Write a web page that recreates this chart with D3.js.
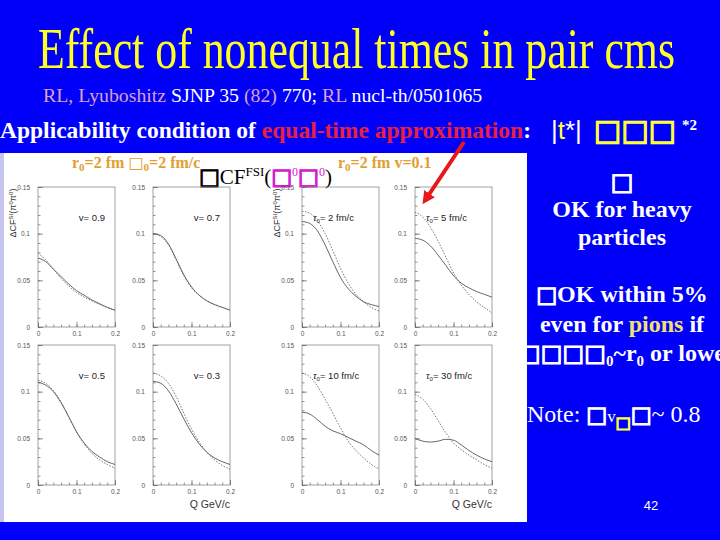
<!DOCTYPE html>
<html><head><meta charset="utf-8">
<script src="https://cdn.jsdelivr.net/npm/d3@7"></script>
<style>body{margin:0;background:#0000fa;} svg{display:block}</style>
</head><body><svg id="c" width="720" height="540"></svg>
<script>
// ---- data ----
const qValues = [0, 0.02, 0.04, 0.06, 0.08, 0.10, 0.12, 0.14, 0.16, 0.18, 0.20];
const panelLabels = ["v= 0.9", "v= 0.7", "τ₀= 2 fm/c", "τ₀= 5 fm/c", "v= 0.5", "v= 0.3", "τ₀= 10 fm/c", "τ₀= 30 fm/c"];
const solidV09  = [0.074, 0.070, 0.062, 0.054, 0.046, 0.039, 0.034, 0.029, 0.025, 0.021, 0.018];
const dashedV09 = [0.079, 0.072, 0.062, 0.052, 0.044, 0.037, 0.032, 0.028, 0.024, 0.021, 0.018];
const solidV07  = [0.100, 0.098, 0.089, 0.073, 0.056, 0.043, 0.034, 0.028, 0.024, 0.021, 0.018];
const dashedV07 = [0.100, 0.097, 0.088, 0.072, 0.055, 0.042, 0.034, 0.028, 0.024, 0.021, 0.018];
const solidT2   = [0.113, 0.111, 0.103, 0.088, 0.070, 0.053, 0.041, 0.033, 0.027, 0.024, 0.022];
const dashedT2  = [0.124, 0.122, 0.114, 0.100, 0.082, 0.063, 0.047, 0.035, 0.027, 0.021, 0.017];
const solidT5   = [0.095, 0.093, 0.087, 0.077, 0.066, 0.055, 0.047, 0.042, 0.038, 0.035, 0.032];
const dashedT5  = [0.123, 0.118, 0.107, 0.092, 0.075, 0.058, 0.045, 0.035, 0.027, 0.021, 0.015];
const solidV05  = [0.110, 0.107, 0.100, 0.088, 0.073, 0.057, 0.045, 0.036, 0.030, 0.025, 0.022];
const dashedV05 = [0.112, 0.109, 0.101, 0.089, 0.073, 0.057, 0.044, 0.034, 0.027, 0.022, 0.018];
const solidV03  = [0.111, 0.109, 0.101, 0.087, 0.071, 0.056, 0.044, 0.035, 0.029, 0.025, 0.022];
const dashedV03 = [0.120, 0.117, 0.109, 0.095, 0.077, 0.060, 0.046, 0.035, 0.027, 0.021, 0.017];
const solidT10  = [0.078, 0.076, 0.070, 0.063, 0.058, 0.055, 0.051, 0.047, 0.043, 0.037, 0.032];
const dashedT10 = [0.120, 0.116, 0.106, 0.092, 0.077, 0.061, 0.047, 0.037, 0.029, 0.022, 0.017];
const solidT30  = [0.050, 0.047, 0.046, 0.047, 0.049, 0.048, 0.043, 0.037, 0.032, 0.028, 0.025];
const dashedT30 = [0.097, 0.092, 0.082, 0.069, 0.056, 0.045, 0.038, 0.032, 0.027, 0.022, 0.018];
const yMajorTicks = [0, 0.05, 0.1, 0.15];
const xMajorTicks = [0, 0.1, 0.2];

const solidSeries = [solidV09, solidV07, solidT2, solidT5, solidV05, solidV03, solidT10, solidT30];
const dashedSeries = [dashedV09, dashedV07, dashedT2, dashedT5, dashedV05, dashedV03, dashedT10, dashedT30];

// ---- layout ----
const svg = d3.select("#c");
const W = 720, H = 540;
svg.append("rect").attr("width", W).attr("height", H).attr("fill", "#0000fa");

// white figure panel
svg.append("rect").attr("x", 0).attr("y", 153).attr("width", 527).attr("height", 369).attr("fill", "#ffffff");
svg.append("rect").attr("x", 0).attr("y", 153).attr("width", 4).attr("height", 369).attr("fill", "#c4c4ee");

const serif = "'Liberation Serif','Times New Roman',serif";
const sans = "'Liberation Sans',Arial,sans-serif";
const box = "'DejaVu Sans',sans-serif";

// title
svg.append("text").attr("x", 38).attr("y", 68)
  .attr("font-family", serif).attr("font-size", 56).attr("fill", "#ffff22")
  .attr("textLength", 637).attr("lengthAdjust", "spacingAndGlyphs")
  .text("Effect of nonequal times in pair cms");

// reference line
const sub = svg.append("text").attr("x", 43).attr("y", 102)
  .attr("font-family", serif).attr("font-size", 19.8).attr("fill", "#ffffff");
[["RL, Lyuboshitz ", "#dca0c8"], ["SJNP 35 ", "#ffffff"], ["(82) ", "#dca0c8"], ["770; ", "#ffffff"], ["RL ", "#dca0c8"], ["nucl-th/0501065", "#ffffff"]]
  .forEach(([t, c]) => sub.append("tspan").attr("fill", c).text(t));

// applicability line
const app = svg.append("text").attr("x", 0).attr("y", 138)
  .attr("font-family", serif).attr("font-size", 23.5).attr("font-weight", "bold").attr("fill", "#ffffff");
app.append("tspan").text("Applicability condition of ");
app.append("tspan").attr("fill", "#e8203c").text("equal-time approximation");
app.append("tspan").text(":");
const tt = svg.append("text").attr("x", 551).attr("y", 139)
  .attr("font-family", sans).attr("font-size", 26).attr("fill", "#ffffff");
tt.append("tspan").text("|");
tt.append("tspan").attr("fill", "#ffff33").text("t");
tt.append("tspan").text("*|");
const bx = svg.append("text").attr("x", 594).attr("y", 140)
  .attr("font-family", box).attr("font-size", 29).attr("fill", "#ffff33")
  .attr("stroke", "#ffff33").attr("stroke-width", 1.3).text("□□□");
svg.append("text").attr("x", 682).attr("y", 130).attr("font-family", serif).attr("font-size", 15)
  .attr("font-weight", "bold").attr("fill", "#ffffff").text("*2");

// orange captions inside the figure
function orangeCaption(x, parts) {
  const t = svg.append("text").attr("x", x).attr("y", 168)
    .attr("font-family", serif).attr("font-size", 16).attr("font-weight", "bold").attr("fill", "#e0a030");
  parts.forEach(p => {
    const s = t.append("tspan").text(p.t);
    if (p.sub) s.attr("font-size", 11).attr("dy", 3);
    if (p.up) s.attr("dy", -3);
    if (p.box) s.attr("font-family", box).attr("font-weight", "normal");
  });
}
orangeCaption(72, [{t: "r"}, {t: "0", sub: true}, {t: "=2 fm  ", up: true}, {t: "□", box: true}, {t: "0", sub: true}, {t: "=2 fm/c", up: true}]);
orangeCaption(338, [{t: "r"}, {t: "0", sub: true}, {t: "=2 fm  v=0.1", up: true}]);

const cf = svg.append("text").attr("x", 199).attr("y", 184)
  .attr("font-family", serif).attr("font-size", 21).attr("fill", "#000");
cf.append("tspan").attr("font-family", box).attr("font-size", 22).attr("stroke", "#000").attr("stroke-width", 1).text("□");
cf.append("tspan").text("CF");
cf.append("tspan").attr("font-size", 13).attr("dy", -8).text("FSI");
cf.append("tspan").attr("dy", 8).text("(");
cf.append("tspan").attr("font-family", box).attr("font-size", 22).attr("fill", "#d020d0").attr("stroke", "#d020d0").attr("stroke-width", 1.2).text("□");
cf.append("tspan").attr("font-size", 12).attr("dy", -8).attr("fill", "#d020d0").text("0");
cf.append("tspan").attr("dy", 8).attr("font-family", box).attr("font-size", 22).attr("fill", "#d020d0").attr("stroke", "#d020d0").attr("stroke-width", 1.2).text("□");
cf.append("tspan").attr("font-size", 12).attr("dy", -8).attr("fill", "#d020d0").text("0");
cf.append("tspan").attr("dy", 8).text(")");

// ---- panels ----
const colLeft = [38, 153, 302, 415], rowTop = [187, 345];
const pw = 77, ph = 140;
const frameColor = "#8a8a8a", tickColor = "#666";

solidSeries.forEach((solid, i) => {
  const left = colLeft[i % 4], top = rowTop[Math.floor(i / 4)];
  const x = d3.scaleLinear().domain([0, 0.2]).range([left, left + pw]);
  const y = d3.scaleLinear().domain([0, 0.15]).range([top + ph, top]);
  const g = svg.append("g");

  g.append("rect").attr("x", left).attr("y", top).attr("width", pw).attr("height", ph)
    .attr("fill", "none").attr("stroke", frameColor).attr("stroke-width", 0.8);

  const yMinor = g.append("g").attr("transform", `translate(${left},0)`)
    .call(d3.axisLeft(y).tickValues(d3.range(0, 0.1501, 0.01)).tickSize(-2.5).tickFormat(""));
  const xMinor = g.append("g").attr("transform", `translate(0,${top + ph})`)
    .call(d3.axisBottom(x).tickValues(d3.range(0, 0.2001, 0.02)).tickSize(-2.5).tickFormat(""));
  const fmt = d => d === 0 ? "0" : String(+d.toFixed(2));
  const yAx = g.append("g").attr("transform", `translate(${left},0)`)
    .call(d3.axisLeft(y).tickValues(yMajorTicks).tickSize(-5).tickPadding(8).tickFormat(fmt));
  const xAx = g.append("g").attr("transform", `translate(0,${top + ph})`)
    .call(d3.axisBottom(x).tickValues(xMajorTicks).tickSize(-5).tickPadding(4).tickFormat(fmt));
  [yMinor, xMinor, yAx, xAx].forEach(a => {
    a.select(".domain").remove();
    a.selectAll("line").attr("stroke", tickColor).attr("stroke-width", 0.7);
    a.selectAll("text").attr("font-family", sans).attr("font-size", 6.5).attr("fill", "#555");
  });

  const line = d3.line().x((d, j) => x(qValues[j])).y(d => y(d)).curve(d3.curveMonotoneX);
  g.append("path").attr("d", line(solid)).attr("fill", "none").attr("stroke", "#555").attr("stroke-width", 0.9);
  g.append("path").attr("d", line(dashedSeries[i])).attr("fill", "none").attr("stroke", "#666")
    .attr("stroke-width", 0.9).attr("stroke-dasharray", "1.5,1.5");

  const lab = panelLabels[i];
  const lt = g.append("text").attr("y", top + 34)
    .attr("font-family", sans).attr("font-size", 9.5).attr("fill", "#222");
  if (lab.startsWith("v")) {
    lt.attr("x", left + pw - 10).attr("text-anchor", "end").text(lab);
  } else {
    lt.attr("x", left + 11);
    lt.append("tspan").attr("font-style", "italic").text("τ");
    lt.append("tspan").attr("font-size", 6).attr("dy", 2).text("0");
    lt.append("tspan").attr("dy", -2).text(lab.slice(2));
  }

  if (i === 0 || i === 2) {
    const yt = g.append("text").attr("transform", `translate(${left - 22},${top + 26}) rotate(-90)`)
      .attr("text-anchor", "middle").attr("font-family", sans).attr("font-size", 9).attr("fill", "#333");
    yt.append("tspan").text("ΔCF");
    yt.append("tspan").attr("font-size", 6).attr("dy", -3).text("SI");
    yt.append("tspan").attr("dy", 3).text("(π");
    yt.append("tspan").attr("font-size", 6).attr("dy", -3).text("0");
    yt.append("tspan").attr("dy", 3).text("π");
    yt.append("tspan").attr("font-size", 6).attr("dy", -3).text("0");
    yt.append("tspan").attr("dy", 3).text(")");
  }
  if (i === 5 || i === 7) {
    g.append("text").attr("x", left + pw).attr("y", top + ph + 23).attr("text-anchor", "end")
      .attr("font-family", sans).attr("font-size", 10.5).attr("fill", "#333").text("Q  GeV/c");
  }
});

// red arrow
const defs = svg.append("defs");
defs.append("marker").attr("id", "ah").attr("viewBox", "0 0 10 10").attr("refX", 5).attr("refY", 5)
  .attr("markerWidth", 3.2).attr("markerHeight", 3.2).attr("orient", "auto")
  .append("path").attr("d", "M0,0 L10,5 L0,10 Z").attr("fill", "#e81818");
svg.append("line").attr("x1", 464).attr("y1", 142).attr("x2", 426).attr("y2", 199)
  .attr("stroke", "#e81818").attr("stroke-width", 4).attr("marker-end", "url(#ah)");

// right-hand text
function rtext(y, parts, opts = {}) {
  const fs = opts.fs || 24;
  const t = svg.append("text").attr("y", y).attr("font-family", serif).attr("font-size", fs)
    .attr("font-weight", opts.normal ? "normal" : "bold").attr("fill", "#ffffff");
  if (opts.x !== undefined) t.attr("x", opts.x); else t.attr("x", 622).attr("text-anchor", "middle");
  parts.forEach(p => {
    const s = t.append("tspan").text(p.t);
    if (p.c) s.attr("fill", p.c);
    if (p.box) s.attr("font-family", box).attr("font-weight", "normal").attr("font-size", p.fs || fs)
      .attr("stroke", p.c || "#ffffff").attr("stroke-width", 1.2);
    if (p.dy) s.attr("dy", p.dy);
    if (p.fs && !p.box) s.attr("font-size", p.fs);
  });
  return t;
}
rtext(190, [{t: "□", box: true}]);
rtext(217, [{t: "OK for heavy"}]);
rtext(245, [{t: "particles"}]);
rtext(302, [{t: "□", box: true, fs: 22}, {t: "OK within 5%"}]);
rtext(332, [{t: "even for "}, {t: "pions", c: "#f0e070"}, {t: " if"}]);
rtext(361, [{t: "□□□□", box: true, fs: 23}, {t: "0", fs: 15, dy: 5}, {t: "~r", dy: -5}, {t: "0", fs: 15, dy: 5}, {t: " or lower", dy: -5}], {x: 519});
rtext(422, [{t: "Note: "}, {t: "□", box: true, fs: 22}, {t: "v", fs: 17}, {t: "□", box: true, c: "#ffff33", fs: 16, dy: 6}, {t: "□", box: true, fs: 22, dy: -6}, {t: "~ 0.8"}], {x: 527, normal: true, fs: 24});

svg.append("text").attr("x", 651).attr("y", 510).attr("text-anchor", "middle")
  .attr("font-family", sans).attr("font-size", 13).attr("fill", "#ffffff").text("42");
</script>
</body></html>
